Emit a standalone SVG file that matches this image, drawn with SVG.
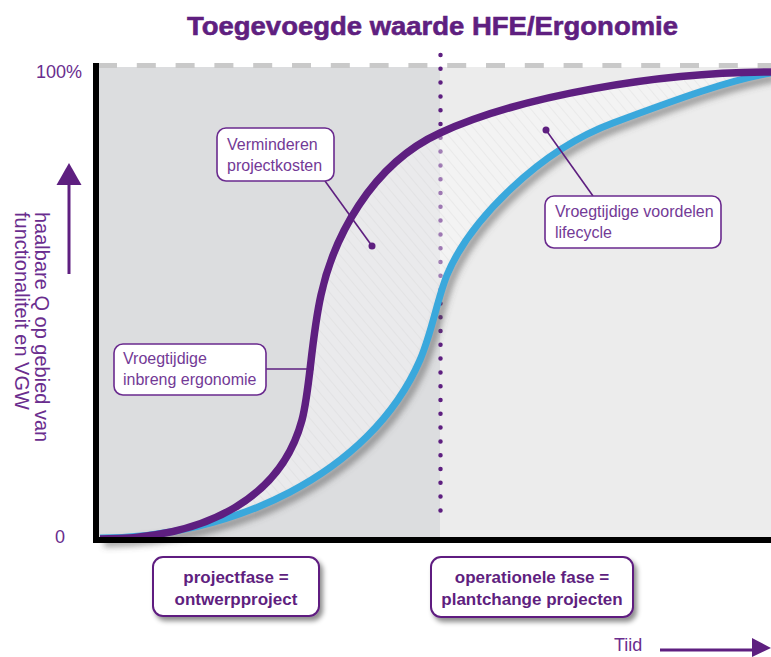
<svg xmlns="http://www.w3.org/2000/svg" width="771" height="657" viewBox="0 0 771 657">
<style>
.lbl{font-family:"Liberation Sans",Arial,sans-serif;font-size:16px;fill:#733a96}
.box{fill:#fff;stroke:#6a2a8e;stroke-width:1.6}
.conn{stroke:#5e1f80;stroke-width:1.6;fill:none}
.ax{font-family:"Liberation Sans",Arial,sans-serif;font-size:18px;fill:#6a2d8e}
.phase{font-family:"Liberation Sans",Arial,sans-serif;font-size:17px;font-weight:bold;fill:#5f1f80;text-anchor:middle}
.pbox{fill:#fff;stroke:#5f1f80;stroke-width:2}
</style>
<defs>
<filter id="blur" x="-10%" y="-10%" width="130%" height="130%"><feGaussianBlur stdDeviation="3"/></filter>
<filter id="ds" x="-10%" y="-20%" width="130%" height="150%"><feDropShadow dx="3" dy="4" stdDeviation="2.5" flood-color="#000" flood-opacity="0.45"/></filter>
<pattern id="hatch" patternUnits="userSpaceOnUse" width="8" height="8" patternTransform="rotate(-40)">
<line x1="0" y1="0" x2="0" y2="8" stroke="#c4c4c4" stroke-width="0.8"/>
</pattern>
</defs>

<g id="title">
<text x="187" y="35" font-family="'Liberation Sans',Arial,sans-serif" font-size="26" font-weight="bold" fill="#5f1f80" stroke="#5f1f80" stroke-width="0.6" textLength="491" lengthAdjust="spacingAndGlyphs">Toegevoegde waarde HFE/Ergonomie</text>
</g>

<g id="plot-background">
<rect x="99" y="67" width="341" height="471" fill="#dcdddf"/>
<rect x="440" y="67" width="331" height="471" fill="#ececec"/>
<line x1="98" y1="65.5" x2="771" y2="65.5" stroke="#c9c9c9" stroke-width="5" stroke-dasharray="19 19.8"/>
<line x1="440.5" y1="55" x2="440.5" y2="524" stroke="#5e1f80" stroke-width="4.5" stroke-linecap="round" stroke-dasharray="0 13.8"/>
</g>

<g id="curves">
<path d="M100,539 C210,539 282,495 302,420 C310,390 311,340 321,295 C333,240 370,165 440,133 C520,96 660,72 771,72 L771,73 C730,80 680,98 613,123 C540,150 470,220 447,275 C437,300 432,332 420,360 C370,475 230,538 100,538 Z" fill="#ffffff" fill-opacity="0.4"/>
<path d="M100,539 C210,539 282,495 302,420 C310,390 311,340 321,295 C333,240 370,165 440,133 C520,96 660,72 771,72 L771,73 C730,80 680,98 613,123 C540,150 470,220 447,275 C437,300 432,332 420,360 C370,475 230,538 100,538 Z" fill="url(#hatch)" opacity="0.5"/>
<path d="M100,538 C230,538 370,475 420,360 C432,332 437,300 447,275 C470,220 540,150 613,123 C680,98 730,80 771,73" fill="none" stroke="#555" stroke-opacity="0.55" stroke-width="8" transform="translate(4,5)" filter="url(#blur)"/>
<path id="blue" d="M100,538 C230,538 370,475 420,360 C432,332 437,300 447,275 C470,220 540,150 613,123 C680,98 730,80 771,73" fill="none" stroke="#3aa8dc" stroke-width="7"/>
<path id="purple" d="M100,539 C210,539 282,495 302,420 C310,390 311,340 321,295 C333,240 370,165 440,133 C520,96 660,72 771,72" fill="none" stroke="#5e1f80" stroke-width="7.5"/>
</g>

<g id="axes">
<line x1="96" y1="63" x2="96" y2="543" stroke="#000" stroke-width="6"/>
<line x1="93" y1="540" x2="771" y2="540" stroke="#000" stroke-width="6"/>
<text class="ax" x="36" y="78">100%</text>
<text class="ax" x="55" y="543">0</text>
</g>

<g id="y-axis-label">
<line x1="69" y1="182" x2="69" y2="274" stroke="#5e1f80" stroke-width="3"/>
<polygon points="69,163 81.5,185 56.5,185" fill="#5e1f80"/>
<text font-family="'Liberation Sans',Arial,sans-serif" font-size="20" fill="#6a2d8e" transform="translate(35,212) rotate(90)">haalbare Q op gebied van</text>
<text font-family="'Liberation Sans',Arial,sans-serif" font-size="20" fill="#6a2d8e" transform="translate(15,212) rotate(90)">functionaliteit en VGW</text>
</g>

<g id="connectors">
<line class="conn" x1="325" y1="181" x2="372" y2="246"/>
<circle cx="372" cy="246" r="3.5" fill="#5e1f80"/>
<line class="conn" x1="266" y1="369" x2="311" y2="369"/>
<circle cx="311" cy="369" r="2.5" fill="#5e1f80"/>
<line class="conn" x1="593" y1="196" x2="546" y2="130"/>
<circle cx="546" cy="130" r="3.5" fill="#5e1f80"/>
</g>

<g id="node-verminderen">
<rect class="box" x="217" y="128" width="117" height="53" rx="9"/>
<text class="lbl" x="227" y="150">Verminderen</text>
<text class="lbl" x="227" y="171">projectkosten</text>
</g>

<g id="node-inbreng">
<rect class="box" x="114" y="344" width="152" height="51" rx="9"/>
<text class="lbl" x="123" y="364">Vroegtijdige</text>
<text class="lbl" x="123" y="385">inbreng ergonomie</text>
</g>

<g id="node-lifecycle">
<rect class="box" x="545" y="196" width="176" height="52" rx="9"/>
<text class="lbl" x="555" y="217">Vroegtijdige voordelen</text>
<text class="lbl" x="555" y="238">lifecycle</text>
</g>

<g id="node-projectfase">
<rect class="pbox" x="153" y="557" width="166" height="59" rx="10" filter="url(#ds)"/>
<text class="phase" x="236" y="583">projectfase =</text>
<text class="phase" x="236" y="605">ontwerpproject</text>
</g>

<g id="node-operationele">
<rect class="pbox" x="431" y="557" width="202" height="60" rx="10" filter="url(#ds)"/>
<text class="phase" x="532" y="583">operationele fase =</text>
<text class="phase" x="532" y="605">plantchange projecten</text>
</g>

<g id="x-axis-label">
<text font-family="'Liberation Sans',Arial,sans-serif" font-size="18" fill="#6a2d8e" x="614" y="651">Tiid</text>
<line x1="660" y1="650" x2="754" y2="650" stroke="#5e1f80" stroke-width="3"/>
<polygon points="752,638 771,648 752,657" fill="#5e1f80"/>
</g>
</svg>
